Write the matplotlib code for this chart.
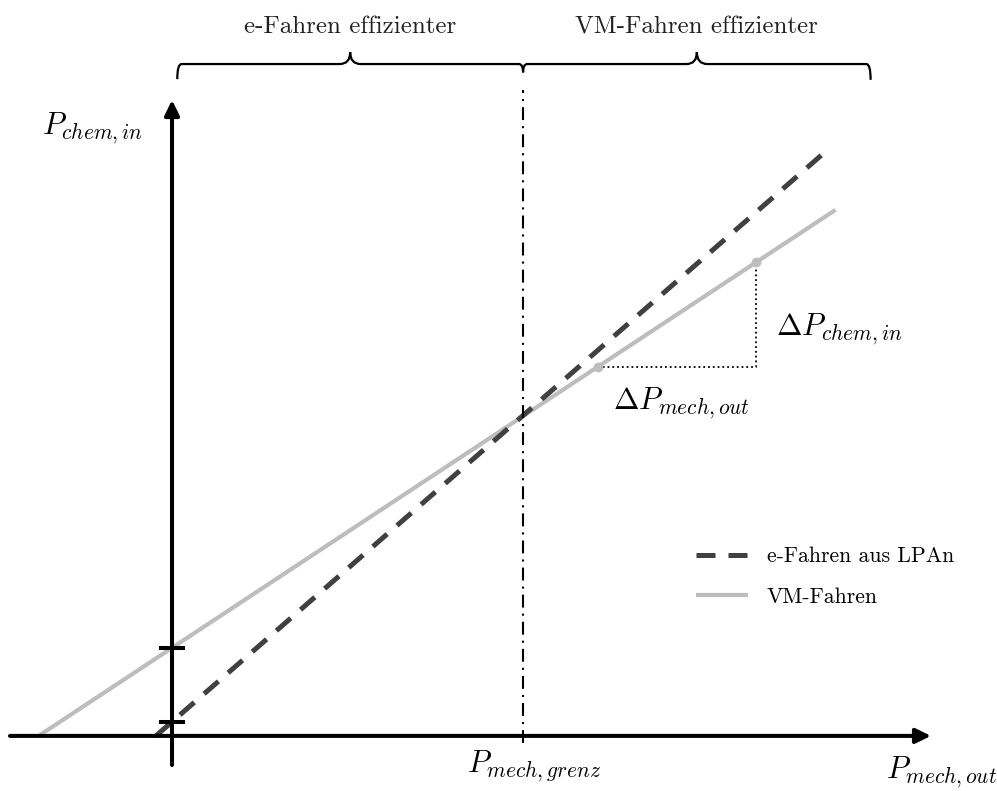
import matplotlib
matplotlib.use("Agg")
import matplotlib.pyplot as plt
from matplotlib.path import Path
from matplotlib.patches import PathPatch

plt.rcParams['mathtext.fontset'] = 'cm'

# schematic values, origin where the two axes cross, P_mech,grenz = 1
x_grenz = 1.0

# straight lines as end points (x, y)
e_x = [-0.046, 1.85]
e_y = [0.0, 1.655]
vm_x = [-0.38, 1.89]
vm_y = [0.0, 1.499]

# y-axis intercepts of both lines
tick_y = [0.04, 0.25]

# slope triangle on the VM line
delta_x = [1.214, 1.664]
delta_y = [1.052, 1.349]

# brace regions along the x direction
regions = [(0.015, 1.0), (1.0, 1.99)]
region_labels = ['e-Fahren effizienter', 'VM-Fahren effizienter']
legend_labels = ['e-Fahren aus LPAn', 'VM-Fahren']

grey = '#bdbdbd'
dark = '#404040'


def draw_brace(ax, x0, x1, y, d0, d1, tip=0.034, r=0.012, rm=0.03):
    xm = (x0 + x1) / 2.0
    verts = [(x0, y - d0),
             (x0, y), (x0 + r, y),
             (xm - rm, y),
             (xm, y), (xm, y + tip),
             (xm, y), (xm + rm, y),
             (x1 - r, y),
             (x1, y), (x1, y - d1)]
    codes = [Path.MOVETO,
             Path.CURVE3, Path.CURVE3,
             Path.LINETO,
             Path.CURVE3, Path.CURVE3,
             Path.CURVE3, Path.CURVE3,
             Path.LINETO,
             Path.CURVE3, Path.CURVE3]
    ax.add_patch(PathPatch(Path(verts, codes), fill=False, lw=1.6,
                           edgecolor='black', capstyle='butt'))


fig = plt.figure(figsize=(9.97, 7.91), dpi=100)
ax = fig.add_axes([0, 0, 1, 1])
ax.set_xlim(-0.49, 2.35)
ax.set_ylim(-0.157, 2.097)
ax.axis('off')

# lines
ax.plot(e_x, e_y, color=dark, lw=3.6, dashes=(3.8, 2.6),
        label=legend_labels[0], zorder=3)
ax.plot(vm_x, vm_y, color=grey, lw=3.0, solid_capstyle='butt',
        label=legend_labels[1], zorder=2)

# axes with arrow heads
arrow = dict(arrowstyle='-|>,head_length=0.45,head_width=0.22',
             lw=2.9, color='black', shrinkA=0, shrinkB=0,
             mutation_scale=20)
ax.annotate('', xy=(2.162, 0), xytext=(-0.4615, 0), arrowprops=arrow,
            zorder=4)
ax.annotate('', xy=(0, 1.812), xytext=(0, -0.083), arrowprops=arrow,
            zorder=4)

# intercept ticks
for ty in tick_y:
    ax.plot([-0.037, 0.037], [ty, ty], color='black', lw=2.9,
            solid_capstyle='butt', zorder=5)

# boundary between the two regions
ax.plot([x_grenz, x_grenz], [-0.02, 1.84], color='black', lw=1.5,
        dashes=(6.2, 2.9, 1.0, 2.9), zorder=3)

# slope triangle
ax.plot([delta_x[0], delta_x[1], delta_x[1]],
        [delta_y[0], delta_y[0], delta_y[1]],
        color='black', lw=1.3, ls=':', zorder=3)
ax.plot(delta_x, delta_y, 'o', color=grey, ms=6, zorder=4)

# braces and their labels
top = 1.9145
draw_brace(ax, regions[0][0], regions[0][1], top, 0.043, 0.024)
draw_brace(ax, regions[1][0], regions[1][1], top, 0.024, 0.045)
for (a, b), lab in zip(regions, region_labels):
    ax.text((a + b) / 2.0, 2.02, lab, fontfamily='cmr10', fontsize=18,
            ha='center', va='center', color='#222222')

# axis and slope labels
ax.text(-0.37, 1.715, r'$P_{chem,in}$', fontsize=22, ha='left',
        va='baseline')
ax.text(2.035, -0.12, r'$P_{mech,out}$', fontsize=22, ha='left',
        va='baseline')
ax.text(0.84, -0.105, r'$P_{mech,grenz}$', fontsize=22, ha='left',
        va='baseline')
ax.text(1.72, 1.14, r'$\Delta P_{chem,in}$', fontsize=22, ha='left',
        va='baseline')
ax.text(1.255, 0.93, r'$\Delta P_{mech,out}$', fontsize=22, ha='left',
        va='baseline')

ax.legend(loc='center left', bbox_to_anchor=(0.698, 0.271), frameon=False,
          prop={'family': 'cmr10', 'size': 15.7}, handlelength=2.4,
          handletextpad=0.85, labelspacing=0.95, borderpad=0,
          borderaxespad=0)

fig.savefig('out.png', dpi=100)
